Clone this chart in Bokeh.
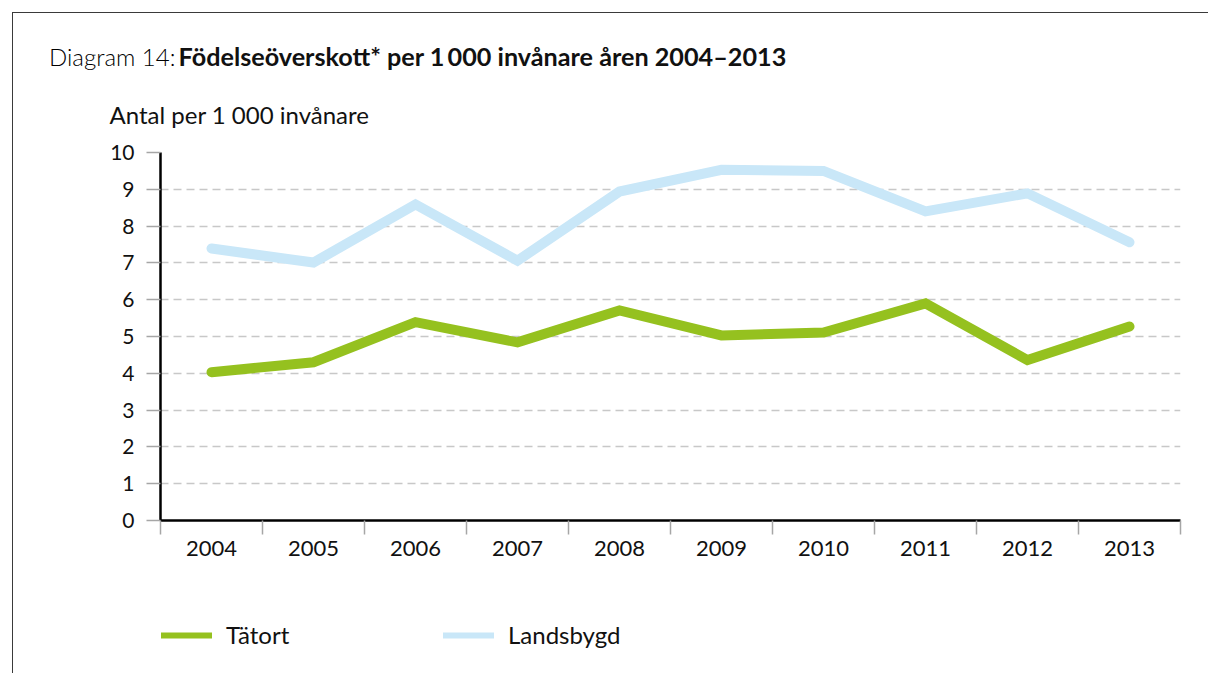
from bokeh.plotting import figure
from bokeh.layouts import column
from bokeh.models import (Range1d, FixedTicker, Legend, LegendItem, Div,
                          InlineStyleSheet)
from bokeh.embed import file_html
from bokeh.resources import INLINE

# ---- data ----
years = [2004, 2005, 2006, 2007, 2008, 2009, 2010, 2011, 2012, 2013]
tatort = [4.03, 4.30, 5.39, 4.84, 5.71, 5.03, 5.11, 5.90, 4.36, 5.27]
landsbygd = [7.39, 7.01, 8.59, 7.06, 8.94, 9.53, 9.50, 8.40, 8.89, 7.56]
y_ticks = [0, 1, 2, 3, 4, 5, 6, 7, 8, 9, 10]
title_light = "Diagram 14:"
title_bold = "Födelseöverskott* per 1\u2009000 invånare åren 2004–2013"
y_title = "Antal per 1 000 invånare"
series_names = ["Tätort", "Landsbygd"]

GREEN = "#95c11f"
BLUE = "#c9e7f8"
FONT = "Lato"
TXT = "#111111"

TOP_H = 70       # title row
P_END = 580      # bottom of main figure on the page
PAGE_H = 673
W = 1208
FRAME_LEFT = 160

div = Div(text=(f'<div style="padding:43px 0 0 49px; font-family:{FONT}; '
                f'line-height:26px; color:{TXT}; white-space:nowrap;">'
                f'<span style="font-weight:300; font-size:24px; color:#000">{title_light}</span> '
                f'<span style="font-weight:700; font-size:25.2px">{title_bold}</span></div>'),
          width=W, height=TOP_H, margin=0)

p = figure(width=W, height=P_END - TOP_H, output_backend="svg",
           toolbar_location=None,
           x_range=Range1d(years[0] - 0.5, years[-1] + 0.5),
           y_range=Range1d(0, 10),
           min_border_left=FRAME_LEFT, min_border_right=28,
           min_border_top=152 - TOP_H, min_border_bottom=P_END - 520, margin=0)
p.outline_line_color = None
p.background_fill_color = None
p.border_fill_color = None

# y-axis title (above the frame, left aligned)
p.title.text = y_title
p.title.align = "left"
p.title.offset = -51
p.title.text_font = FONT
p.title.text_font_size = "24px"
p.title.text_font_style = "normal"
p.title.text_color = TXT
p.title.standoff = 47

# x axis: labels at category centres, minor ticks at category boundaries
bounds = [y - 0.5 for y in years] + [years[-1] + 0.5]
p.xaxis.ticker = FixedTicker(ticks=years, minor_ticks=bounds)
p.xaxis.major_tick_out = 0
p.xaxis.major_tick_in = 0
p.xaxis.minor_tick_out = 14
p.xaxis.minor_tick_in = 0
p.xaxis.minor_tick_line_color = "#a6a6a6"
p.xaxis.minor_tick_line_width = 1.5
p.xaxis.major_label_standoff = 6
p.xaxis.axis_line_color = "black"
p.xaxis.axis_line_width = 2.5
p.xaxis.major_label_text_font = FONT
p.xaxis.major_label_text_font_size = "22px"
p.xaxis.major_label_text_color = TXT

p.yaxis.ticker = FixedTicker(ticks=y_ticks, minor_ticks=[])
p.yaxis.major_tick_out = 14
p.yaxis.major_tick_in = 0
p.yaxis.major_tick_line_color = "#a6a6a6"
p.yaxis.major_tick_line_width = 1.5
p.yaxis.minor_tick_line_color = None
p.yaxis.major_label_standoff = 12
p.yaxis.axis_line_color = "black"
p.yaxis.axis_line_width = 2.5
p.yaxis.major_label_text_font = FONT
p.yaxis.major_label_text_font_size = "21px"
p.yaxis.major_label_text_color = TXT

p.xgrid.grid_line_color = None
p.ygrid.grid_line_color = "#c8c8c8"
p.ygrid.grid_line_width = 1.5
p.ygrid.grid_line_dash = "8 5"

# ---- series ----
p.line(years, landsbygd, line_color=BLUE, line_width=10,
       line_cap="round", line_join="miter")
p.line(years, tatort, line_color=GREEN, line_width=10,
       line_cap="round", line_join="miter")

# ---- legend row: its own small figure (frame aligned with the main plot) ----
lf = figure(width=W, height=PAGE_H - P_END, output_backend="svg",
            toolbar_location=None, x_axis_type=None, y_axis_type=None,
            x_range=Range1d(0, 1), y_range=Range1d(0, 1),
            min_border=0, margin=0)
lf.outline_line_color = None
lf.background_fill_color = None
lf.border_fill_color = None
# the series again (outside this figure's visible ranges) to drive the legend samples
leg_t = lf.line(years, tatort, line_color=GREEN, line_width=6, line_cap="round")
leg_l = lf.line(years, landsbygd, line_color=BLUE, line_width=6, line_cap="round")
for r, name, xloc in [(leg_t, series_names[0], 161), (leg_l, series_names[1], 443)]:
    lg = Legend(items=[LegendItem(label=name, renderers=[r])],
                location=(xloc - FRAME_LEFT, 24), orientation="horizontal",
                border_line_color=None, background_fill_alpha=0,
                padding=0, margin=0, glyph_width=51, glyph_height=28,
                label_standoff=14, label_text_font=FONT,
                label_text_font_size="24px", label_text_color=TXT,
                label_text_baseline="middle")
    lf.add_layout(lg)

layout = column(div, p, lf, spacing=0, margin=0)
layout.stylesheets = [InlineStyleSheet(css=""":host { position: relative; }
:host::after { content: ''; position: absolute;
  left: 12px; top: 12px; right: 0; bottom: 0; border-top: 1.5px solid #3a3a3a;
  border-left: 1.5px solid #3a3a3a; pointer-events: none; }""")]

open("out.html", "w").write(file_html(layout, INLINE))
